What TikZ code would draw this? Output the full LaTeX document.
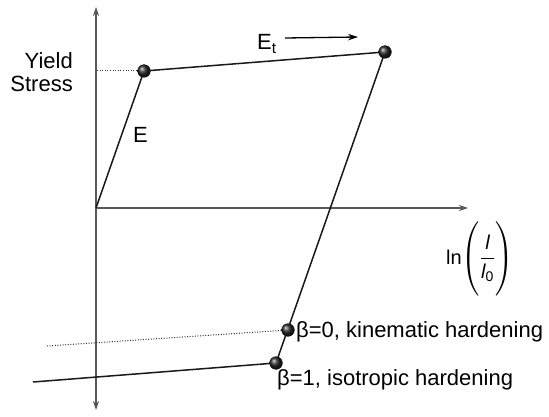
\documentclass[tikz,border=0pt]{standalone}
\usepackage{fontspec}
\usepackage{amsmath}
\setmainfont{Liberation Sans}
\usetikzlibrary{arrows.meta}
\begin{document}
\begin{tikzpicture}[x=1pt,y=-1pt,
  axis/.style={draw=black!65,line width=1.1pt,-{Stealth[length=9pt,width=6pt]}},
  curve/.style={draw=black!90,line width=1.5pt},
  guide/.style={draw=black!80,line width=1pt,dash pattern=on 1pt off 1.6pt},
  ball/.style={circle,inner sep=0pt,minimum size=13pt,shading=ball,ball color=black!85},
  lbl/.style={font=\fontsize{22}{26}\selectfont,inner sep=0pt}]
\useasboundingbox (0,0) rectangle (549,417);
% axes
\coordinate (O) at (96,208);
\coordinate (ytop) at (96,7);
\coordinate (ybot) at (96,410);
\coordinate (xend) at (468,208);
\draw[axis] (O) -- (ytop);
\draw[axis] (O) -- (ybot);
\draw[axis] (O) -- (xend);
% points
\node[ball] (Y) at (144,71) {};
\node[ball] (T) at (385,52) {};
\node[ball] (K) at (288,330) {};
\node[ball] (I) at (276,363) {};
\coordinate (yd) at (97,71);
\coordinate (kd) at (47,346);
\coordinate (il) at (33,382);
% curves
\draw[guide] (yd) -- (Y.center);
\draw[guide] (kd) -- (K.center);
\draw[curve] (O) -- (Y.center) -- (T.center) -- (I.center) -- (il);
\node[ball] at (Y) {};
\node[ball] at (T) {};
\node[ball] at (K) {};
\node[ball] at (I) {};
% labels
\node[lbl,anchor=base east] (ys1) at (73,69) {Yield};
\node[lbl,anchor=base east] (ys2) at (73,92) {Stress};
\node[lbl,anchor=base west] (E) at (133,143) {E};
\node[lbl,anchor=base west] (Et) at (257,50) {E\textsubscript{t}};
\coordinate (ea) at (285,38);
\coordinate (eb) at (358,37);
\draw[line width=1.3pt,-{Stealth[length=10pt,width=6.5pt]}] (ea) -- (eb);
\node[anchor=base west,inner sep=0pt,font=\fontsize{20}{24}\selectfont] (ln) at (446,264) {\delimiterfactor=1000\delimitershortfall=0pt ln$\left(\vrule height 40pt depth 28pt width 0pt\dfrac{\mbox{\itshape l}}{\mbox{\itshape l\textsubscript{\upshape 0}}}\right)$};
\node[lbl,anchor=base west] (kt) at (296,337) {β=0, kinematic hardening};
\node[lbl,anchor=base west] (it) at (277,385) {β=1, isotropic hardening};
\end{tikzpicture}
\end{document}
